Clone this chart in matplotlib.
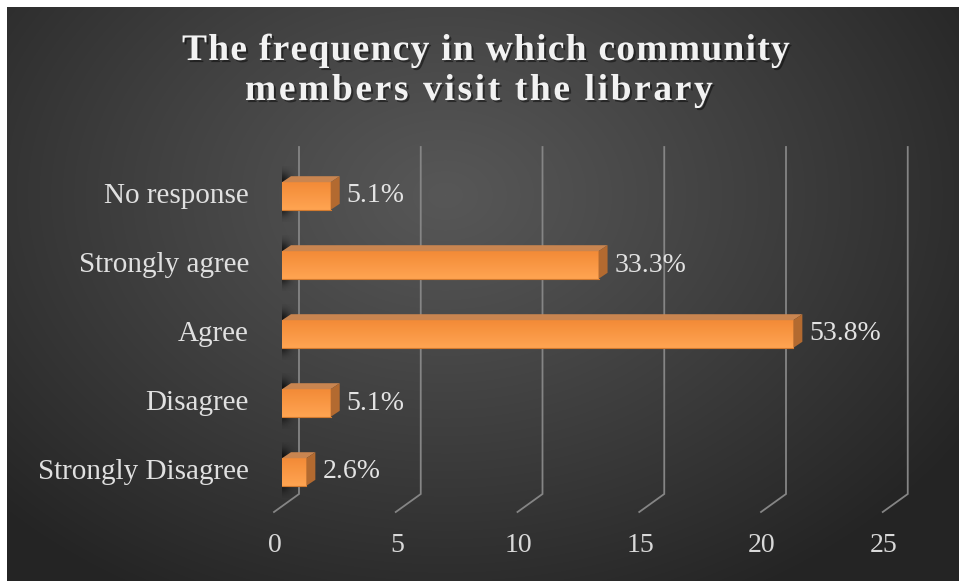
import numpy as np
import matplotlib.pyplot as plt
from matplotlib.patches import Polygon, Rectangle
from matplotlib.font_manager import FontProperties, findfont
from matplotlib.ft2font import FT2Font
import matplotlib.patheffects as pe

categories = ['Strongly Disagree', 'Disagree', 'Agree', 'Strongly agree', 'No response']
counts = [1, 2, 21, 13, 2]
percent_labels = ['2.6%', '5.1%', '53.8%', '33.3%', '5.1%']
x_ticks = [0, 5, 10, 15, 20, 25]
title_lines = ['The frequency in which community', 'members visit the library']

W, H = 959, 581
SERIF = 'Liberation Serif'

# pixel -> data unit factors for the plot area
PX_X = 1 / 24.35
PX_Y = 1 / 69.0
BAR_H = 0.40
DEPTH_X = 9 * PX_X
DEPTH_Y = 6 * PX_Y

fig = plt.figure(figsize=(W / 100, H / 100), dpi=100, facecolor='#262626')

# dark radial backdrop
bg = fig.add_axes([0, 0, 1, 1])
yy, xx = np.mgrid[0:H, 0:W]
r = np.sqrt(((xx - 445) / 620.0) ** 2 + ((yy - 195) / 460.0) ** 2)
r = np.clip(r, 0, 1)
shade = (0x57 - (0x57 - 0x24) * r ** 1.1) / 255.0
bg.imshow(np.dstack([shade, shade, shade]), aspect='auto', interpolation='bilinear',
          extent=(0, W, H, 0))
bg.set_xlim(0, W)
bg.set_ylim(H, 0)
# white strip along the top and left edges
bg.add_patch(Rectangle((0, 0), W, 7, facecolor='white', edgecolor='none'))
bg.add_patch(Rectangle((0, 0), 7, H, facecolor='white', edgecolor='none'))
bg.axis('off')

ax = fig.add_axes([282 / W, (H - 541) / H, 25 * 24.35 / W, 414 / H])
ax.patch.set_alpha(0)
ax.axis('off')

# back-wall gridlines with the floor edge running to the front
grid_top, grid_bot, floor_front = (472 - 147) * PX_Y, (472 - 494) * PX_Y, (472 - 512) * PX_Y
for v in x_ticks:
    xb = v + 17 * PX_X
    xf = v - 8 * PX_X
    ax.plot([xb, xb, xf], [grid_top, grid_bot, floor_front], color='#858585',
            lw=1.3, solid_joinstyle='miter', clip_on=False, zorder=1)
    ax.text(v - 7 * PX_X, (472 - 546) * PX_Y, str(v), family=SERIF, fontsize=20,
            color='#d9d9d9', ha='center', va='center', clip_on=False)

# soft shadows cast by the bars onto the left wall
sx = np.linspace(0, 1, 40)
sy = np.linspace(-1, 1, 60)
SX, SY = np.meshgrid(sx, sy)
alpha = np.exp(-(SX / 0.45) ** 2) * np.exp(-(SY / 0.75) ** 4) * 0.85
shadow = np.zeros((60, 40, 4))
shadow[..., 3] = alpha
for i in range(len(categories)):
    ax.imshow(shadow, extent=(0, 18 * PX_X, i - BAR_H / 2 - 12 * PX_Y, i + BAR_H / 2 + 16 * PX_Y),
              aspect='auto', interpolation='bilinear', zorder=2, origin='upper')

# orange 3-D bars
front_grad = np.array([[0xF3, 0x8B, 0x37], [0xFF, 0xA4, 0x52]]) / 255.0
front_img = np.linspace(front_grad[0], front_grad[1], 30)[:, None, :]
for i, (val, lab) in enumerate(zip(counts, percent_labels)):
    y0, y1 = i - BAR_H / 2, i + BAR_H / 2
    ax.imshow(front_img, extent=(0, val, y0, y1), aspect='auto', origin='upper',
              interpolation='bilinear', zorder=3)
    ax.plot([0, val], [y0, y0], color='#d27a2e', lw=0.8, zorder=4)
    top = Polygon([(0, y1), (val, y1), (val + DEPTH_X, y1 + DEPTH_Y), (DEPTH_X, y1 + DEPTH_Y)],
                  closed=True, facecolor='#c98550', edgecolor='none', zorder=3)
    side = Polygon([(val, y0), (val, y1), (val + DEPTH_X, y1 + DEPTH_Y), (val + DEPTH_X, y0 + DEPTH_Y)],
                   closed=True, facecolor='#b36a30', edgecolor='none', zorder=3)
    ax.add_patch(top)
    ax.add_patch(side)
    ax.text(val + DEPTH_X + 7 * PX_X, i, lab, family=SERIF, fontsize=20, color='#e3e3e3',
            ha='left', va='center', zorder=5, clip_on=False)
    ax.text((249 - 282) * PX_X, i, categories[i], family=SERIF, fontsize=21, color='#e0e0e0',
            ha='right', va='center', clip_on=False)

ax.set_xlim(0, 25)
ax.set_ylim(-1, 5)

# letter-spaced bold title, one character at a time
title_prop = FontProperties(family=SERIF, weight='bold', size=27)
ft = FT2Font(findfont(title_prop))
ft.set_size(27, 100)


def advance(ch):
    return ft.load_char(ord(ch)).linearHoriAdvance / 65536.0


shadow_fx = [pe.SimplePatchShadow(offset=(1.5, -1.5), shadow_rgbFace='black', alpha=0.45), pe.Normal()]
title_spans = [(182, 789), (245, 712)]
title_baselines = [60, 100]
for line, (x_left, x_right), base in zip(title_lines, title_spans, title_baselines):
    advs = [advance(c) for c in line]
    natural = sum(advs[:-1]) + ft.load_char(ord(line[-1])).width / 64.0
    gap = (x_right - x_left - natural) / (len(line) - 1)
    x = x_left
    for ch, a in zip(line, advs):
        if ch != ' ':
            fig.text(x / W, 1 - base / H, ch, fontproperties=title_prop, color='#f2f2f2',
                     ha='left', va='baseline', path_effects=shadow_fx)
        x += a + gap

fig.savefig('out.png', dpi=100, facecolor=fig.get_facecolor())
